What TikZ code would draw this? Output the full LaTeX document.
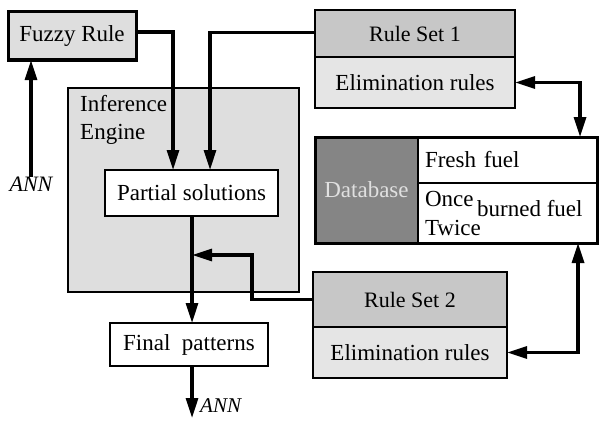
\documentclass[tikz,border=0pt]{standalone}
\usepackage{fontspec}
\setmainfont{Liberation Serif}
\usetikzlibrary{arrows.meta,calc}
\definecolor{fuzzyfill}{gray}{0.87}
\definecolor{enginefill}{gray}{0.87}
\definecolor{headfill}{gray}{0.78}
\definecolor{elimfill}{gray}{0.9}
\definecolor{dbfill}{gray}{0.52}
\definecolor{dbtext}{gray}{0.88}
\begin{document}
\begin{tikzpicture}[x=1pt,y=-1pt,
  base/.style={font=\fontsize{23}{28}\selectfont},
  box/.style={base, draw, anchor=north west, inner sep=0pt, outer sep=0pt},
  txt/.style={base, inner sep=0pt},
  conn/.style={line width=3.2pt, -{Triangle[length=20pt,width=12pt]}},
  dconn/.style={line width=3.2pt, {Triangle[length=20pt,width=12pt]}-{Triangle[length=20pt,width=12pt]}},
  ]
\useasboundingbox (0,0) rectangle (599,420);

% Inference engine background
\node[box, minimum width=231pt, minimum height=204pt, fill=enginefill, line width=2.5pt] (engine) at (68,88) {};
\node[txt, anchor=north west, align=left] (enginetxt) at (80,95) {Inference\\Engine};

% Fuzzy rule
\node[box, minimum width=128pt, minimum height=48pt, fill=fuzzyfill, line width=3pt] (fuzzy) at (8,12) {Fuzzy Rule};

% Partial solutions
\node[box, minimum width=173pt, minimum height=46pt, fill=white, line width=2pt] (ps) at (105,170) {Partial solutions};

% Final patterns
\node[box, minimum width=158pt, minimum height=43pt, fill=white, line width=1.5pt] (fp) at (110,323) {Final\ \ patterns};

% Rule set 1
\node[box, minimum width=200pt, minimum height=47pt, fill=headfill, line width=2.5pt, font=\fontsize{22}{26}\selectfont] (rs1h) at (315,10) {Rule Set 1};
\node[box, minimum width=200pt, minimum height=51pt, fill=elimfill, line width=2.5pt] (rs1e) at (315,57) {Elimination rules};

% Rule set 2
\node[box, minimum width=194pt, minimum height=55pt, fill=headfill, line width=2.5pt, font=\fontsize{22}{26}\selectfont] (rs2h) at (313,272) {Rule Set 2};
\node[box, minimum width=194pt, minimum height=51pt, fill=elimfill, line width=2.5pt] (rs2e) at (313,327) {Elimination rules};

% Database
\node[box, minimum width=103pt, minimum height=106pt, fill=dbfill, line width=1pt, text=dbtext] (dbleft) at (315,137) {Database};
\node[box, minimum width=179pt, minimum height=46pt, fill=white, line width=1.5pt, text width=165pt, inner xsep=7pt, align=left] (fresh) at (418,137) {Fresh fuel};
\node[box, minimum width=179pt, minimum height=60pt, fill=white, line width=1.5pt, text width=165pt, inner xsep=7pt, align=left, font=\fontsize{23}{29}\selectfont] (burned) at (418,183) {Once\\Twice};
\node[txt, anchor=base west] (burnedtxt) at (477,216) {burned fuel};
\draw[line width=3pt] (dbleft.north west) rectangle (burned.south east);

% Labels
\node[txt, font=\fontsize{22}{26}\selectfont\itshape] (annin) at (31,184) {ANN};
\node[txt, anchor=west, font=\fontsize{21}{26}\selectfont\itshape] (annout) at (200,406) {ANN};

% Coordinates on edges
\coordinate (in1) at ($(ps.north west)+(68,0)$);
\coordinate (in2) at ($(ps.north west)+(105,0)$);
\coordinate (join) at (192,255);
\coordinate (bend) at (252,255);
\coordinate (outend) at (192,418);
\coordinate (db1) at (580,137);
\coordinate (db2) at (578,243);

% Connectors
\draw[conn] (annin.north) -- (annin.north |- fuzzy.south);
\draw[conn] ($(fuzzy.east)+(0,-4)$) -| (in1);
\draw[conn] ($(rs1h.west)+(0,-1)$) -| (in2);
\draw[conn] (ps.south -| join) -- (fp.north -| join);
\draw[conn] (fp.south -| outend) -- (outend);
\draw[conn] (rs2h.west) -| (bend) -- (join);
\draw[dconn] (rs1e.east) -| (db1);
\draw[dconn] (rs2e.east) -| (db2);
\end{tikzpicture}
\end{document}
